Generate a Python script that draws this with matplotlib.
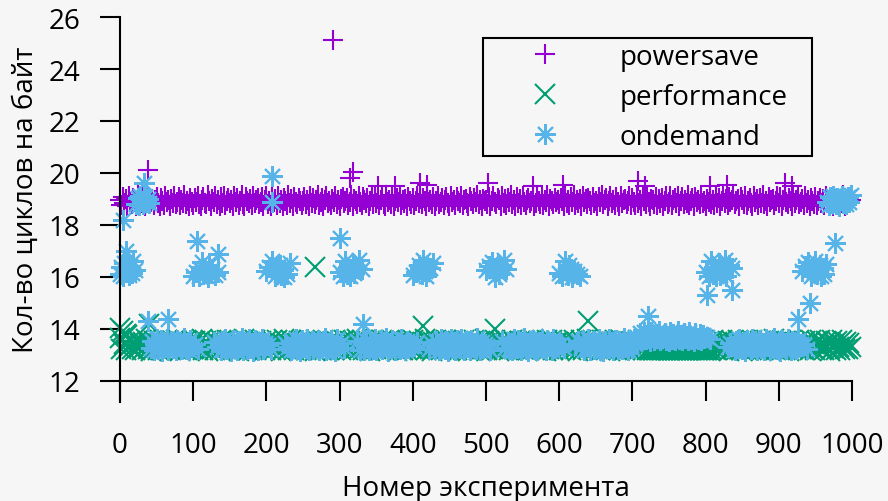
import numpy as np
import matplotlib
matplotlib.use('Agg')
import matplotlib.pyplot as plt

plt.rcParams['font.family'] = ['Open Sans', 'DejaVu Sans']

run = np.arange(0, 1000, 2)

powersave = [
    18.95, 18.76, 19.08, 18.84, 18.99, 18.73, 19.12, 18.88, 18.79, 19.03, 18.91, 18.75, 19.14, 18.82, 18.97, 18.86, 19.06, 18.74, 18.93, 19.10, 18.80, 18.89, 19.01, 18.77, 18.96,
    19.09, 18.83, 18.74, 19.04, 18.92, 18.78, 19.13, 18.87, 18.95, 18.73, 19.00, 18.85, 19.11, 18.79, 18.90, 19.07, 18.76, 18.98, 18.84, 19.15, 18.81, 18.94, 18.75, 19.02, 18.88,
    18.77, 19.05, 18.90, 19.12, 18.82, 18.74, 18.97, 19.09, 18.86, 18.79, 19.14, 18.93, 18.75, 19.01, 18.89, 19.10, 18.80, 18.96, 18.73, 19.06, 18.85, 19.13, 18.78, 18.92, 19.03,
    18.84, 18.97, 18.75, 19.11, 18.88, 19.02, 18.78, 18.94, 19.14, 18.81, 18.73, 19.07, 18.91, 18.86, 19.00, 18.76, 19.12, 18.83, 18.95, 19.05, 18.79, 18.90, 19.09, 18.74, 18.98,
    19.13, 18.80, 18.93, 18.74, 19.06, 18.87, 19.00, 18.77, 19.10, 18.85, 18.96, 18.73, 19.04, 18.92, 18.78, 19.15, 18.83, 18.99, 18.75, 19.08, 18.89, 18.81, 19.02, 18.94, 18.76,
    18.91, 19.07, 18.79, 18.98, 18.74, 19.12, 18.86, 19.03, 18.82, 18.95, 19.14, 18.77, 18.90, 19.05, 18.73, 18.97, 19.10, 18.84, 18.93, 18.76, 19.01, 18.88, 19.13, 18.80, 18.96,
    18.75, 18.99, 19.09, 18.83, 18.92, 19.04, 18.78, 18.87, 19.15, 18.74, 19.00, 18.94, 18.81, 19.11, 18.89, 18.76, 19.06, 18.97, 18.85, 19.02, 18.73, 18.91, 19.08, 18.79, 19.12,
    18.86, 19.01, 18.77, 18.95, 19.13, 18.82, 18.74, 19.07, 18.90, 18.98, 18.80, 19.10, 18.75, 18.93, 19.04, 18.87, 19.14, 18.78, 18.96, 18.84, 19.00, 18.73, 19.09, 18.92, 18.81,
    19.05, 18.76, 18.94, 19.11, 18.85, 18.99, 18.79, 19.03, 18.91, 18.74, 19.14, 18.88, 18.97, 18.82, 19.07, 18.75, 18.93, 19.12, 18.80, 18.90, 19.02, 18.77, 18.96, 19.08, 18.84,
    18.73, 19.10, 18.89, 18.98, 18.78, 19.06, 18.92, 18.83, 19.13, 18.76, 18.95, 19.01, 18.86, 18.74, 19.09, 18.94, 18.81, 19.04, 18.88, 19.15, 18.79, 18.97, 18.75, 19.00, 18.91,
    18.98, 18.81, 19.07, 18.75, 18.93, 19.12, 18.87, 18.79, 19.02, 18.95, 18.73, 19.10, 18.84, 18.99, 18.77, 19.05, 18.90, 19.14, 18.82, 18.96, 18.74, 19.08, 18.86, 19.01, 18.78,
    19.11, 18.88, 18.76, 18.97, 19.04, 18.83, 18.92, 19.13, 18.74, 18.85, 19.06, 18.94, 18.80, 19.09, 18.77, 18.98, 18.89, 19.15, 18.75, 19.00, 18.91, 18.79, 19.03, 18.87, 18.96,
    18.82, 19.02, 18.93, 18.74, 19.10, 18.86, 18.97, 18.78, 19.07, 18.90, 19.14, 18.76, 18.95, 18.84, 19.01, 18.73, 19.12, 18.88, 18.99, 18.81, 19.05, 18.92, 18.77, 19.09, 18.85,
    18.94, 18.75, 19.08, 18.87, 19.15, 18.80, 18.96, 19.03, 18.74, 18.91, 19.11, 18.83, 18.98, 18.77, 19.06, 18.89, 18.73, 19.13, 18.85, 18.95, 19.00, 18.79, 18.92, 19.10, 18.76,
    19.04, 18.90, 18.78, 19.12, 18.84, 18.97, 18.74, 19.07, 18.93, 18.81, 19.14, 18.88, 18.75, 19.01, 18.96, 18.82, 19.09, 18.77, 18.99, 18.86, 19.05, 18.73, 18.94, 19.11, 18.80,
    18.87, 19.13, 18.76, 18.95, 19.02, 18.83, 19.10, 18.74, 18.91, 19.06, 18.79, 18.98, 18.85, 19.15, 18.78, 18.92, 19.03, 18.75, 19.08, 18.89, 18.97, 18.81, 19.12, 18.84, 18.93,
    18.74, 19.01, 18.90, 19.09, 18.80, 18.96, 18.77, 19.14, 18.86, 19.04, 18.73, 18.92, 19.11, 18.83, 18.99, 18.76, 19.06, 18.88, 18.95, 19.13, 18.79, 18.91, 19.00, 18.75, 19.07,
    18.97, 18.82, 19.12, 18.78, 18.93, 19.05, 18.86, 18.74, 19.10, 18.90, 18.99, 18.77, 19.03, 18.84, 19.15, 18.81, 18.94, 18.73, 19.08, 18.87, 18.98, 19.01, 18.76, 18.92, 19.13,
    18.85, 19.06, 18.75, 18.96, 19.11, 18.88, 18.79, 19.02, 18.93, 18.74, 19.14, 18.83, 18.97, 19.07, 18.80, 18.90, 19.00, 18.77, 19.12, 18.86, 18.95, 18.73, 19.04, 18.91, 18.82,
    19.09, 18.78, 18.94, 19.03, 18.84, 18.99, 18.76, 19.13, 18.89, 18.81, 19.05, 18.92, 18.74, 19.10, 18.87, 18.96, 18.79, 19.01, 18.85, 19.15, 18.75, 18.93, 19.07, 18.83, 18.98,
]

performance = [
    13.64, 13.25, 13.92, 13.41, 13.20, 13.78, 13.33, 13.55, 13.22, 13.47, 13.18, 13.38, 13.58, 13.27, 13.44, 13.19, 13.51, 13.30, 13.60, 13.23, 13.42, 13.17, 13.36, 13.54, 13.26,
    13.48, 13.21, 13.57, 13.34, 13.18, 13.45, 13.29, 13.59, 13.24, 13.40, 13.19, 13.52, 13.31, 13.56, 13.22, 13.43, 13.17, 13.50, 13.35, 13.26, 13.58, 13.20, 13.39, 13.28, 13.53,
    13.23, 13.55, 13.37, 13.19, 13.49, 13.30, 13.60, 13.21, 13.42, 13.54, 13.17, 13.33, 13.57, 13.25, 13.46, 13.20, 13.51, 13.38, 13.18, 13.59, 13.28, 13.44, 13.22, 13.56, 13.35,
    13.19, 13.47, 13.31, 13.58, 13.24, 13.41, 13.17, 13.53, 13.36, 13.27, 13.60, 13.21, 13.45, 13.18, 13.50, 13.39, 13.25, 13.57, 13.20, 13.43, 13.32, 13.55, 13.23, 13.40, 13.18,
    13.52, 13.28, 13.44, 13.20, 13.59, 13.35, 13.22, 13.56, 13.30, 13.48, 13.17, 13.41, 13.60, 13.26, 13.50, 13.19, 13.38, 13.57, 13.29, 13.18, 13.46, 13.33, 13.55, 13.21, 13.43,
    13.27, 13.54, 13.19, 13.40, 13.58, 13.23, 13.47, 13.34, 13.17, 13.56, 13.29, 13.51, 13.20, 13.42, 13.59, 13.24, 13.37, 13.18, 13.53, 13.31, 13.48, 13.21, 13.57, 13.28, 13.44,
    13.49, 13.18, 13.36, 13.57, 13.25, 13.45, 13.21, 13.55, 13.32, 13.19, 13.52, 13.28, 13.60, 13.22, 13.41, 13.56, 13.20, 13.35, 13.53, 13.26, 13.46, 13.17, 13.58, 13.30, 13.47,
    13.24, 13.51, 13.33, 13.18, 13.57, 13.28, 13.43, 13.20, 13.55, 13.37, 13.22, 13.59, 13.26, 13.48, 13.17, 13.40, 13.54, 13.29, 13.21, 13.50, 13.35, 13.19, 13.56, 13.31, 13.45,
    13.58, 13.22, 13.42, 13.27, 13.53, 13.18, 13.47, 13.34, 13.60, 13.20, 13.39, 13.55, 13.25, 13.17, 13.49, 13.30, 13.57, 13.23, 13.44, 13.19, 13.52, 13.36, 13.21, 13.58, 13.28,
    13.20, 13.46, 13.56, 13.24, 13.38, 13.18, 13.54, 13.31, 13.49, 13.22, 13.59, 13.27, 13.43, 13.17, 13.51, 13.35, 13.21, 13.57, 13.29, 13.45, 13.19, 13.53, 13.33, 13.25, 13.60,
    13.41, 13.19, 13.55, 13.30, 13.47, 13.22, 13.58, 13.26, 13.37, 13.17, 13.52, 13.44, 13.21, 13.56, 13.28, 13.48, 13.18, 13.39, 13.59, 13.23, 13.50, 13.32, 13.20, 13.54, 13.36,
    13.25, 13.57, 13.21, 13.43, 13.18, 13.53, 13.34, 13.60, 13.27, 13.46, 13.19, 13.55, 13.31, 13.22, 13.49, 13.38, 13.17, 13.58, 13.24, 13.42, 13.56, 13.20, 13.45, 13.29, 13.51,
    13.18, 13.48, 13.36, 13.59, 13.22, 13.44, 13.27, 13.54, 13.19, 13.40, 13.57, 13.25, 13.50, 13.17, 13.33, 13.56, 13.21, 13.46, 13.29, 13.60, 13.23, 13.39, 13.52, 13.20, 13.43,
    13.55, 13.26, 13.41, 13.19, 13.58, 13.32, 13.47, 13.21, 13.53, 13.28, 13.17, 13.50, 13.37, 13.59, 13.24, 13.45, 13.20, 13.56, 13.30, 13.42, 13.18, 13.54, 13.34, 13.22, 13.49,
    13.27, 13.52, 13.20, 13.44, 13.57, 13.23, 13.38, 13.18, 13.49, 13.31, 13.18, 13.18, 13.18, 13.18, 13.18, 13.18, 13.18, 13.18, 13.18, 13.18, 13.18, 13.18, 13.18, 13.18, 13.18,
    13.18, 13.18, 13.18, 13.18, 13.18, 13.18, 13.18, 13.18, 13.18, 13.18, 13.18, 13.18, 13.18, 13.18, 13.18, 13.18, 13.18, 13.18, 13.18, 13.18, 13.18, 13.18, 13.18, 13.18, 13.18,
    13.18, 13.18, 13.18, 13.46, 13.22, 13.57, 13.30, 13.19, 13.51, 13.36, 13.24, 13.59, 13.20, 13.43, 13.28, 13.55, 13.17, 13.40, 13.53, 13.25, 13.47, 13.21, 13.58, 13.33, 13.19,
    13.50, 13.26, 13.44, 13.18, 13.56, 13.31, 13.22, 13.59, 13.37, 13.20, 13.48, 13.27, 13.54, 13.17, 13.42, 13.57, 13.23, 13.35, 13.52, 13.19, 13.45, 13.29, 13.60, 13.21, 13.39,
    13.24, 13.55, 13.19, 13.41, 13.53, 13.28, 13.46, 13.17, 13.58, 13.33, 13.22, 13.50, 13.36, 13.20, 13.57, 13.25, 13.43, 13.18, 13.54, 13.30, 13.48, 13.21, 13.59, 13.27, 13.44,
    13.18, 13.52, 13.34, 13.57, 13.23, 13.40, 13.20, 13.55, 13.29, 13.47, 13.17, 13.58, 13.26, 13.43, 13.21, 13.53, 13.32, 13.19, 13.56, 13.38, 13.24, 13.50, 13.22, 13.45, 13.30,
]

ondemand = [
    16.12, 16.38, 16.03, 16.55, 16.21, 16.30, 16.07, 16.44, 16.16, 16.62, 16.26,  # 0-20
    18.82, 19.05, 18.76, 19.12, 18.94, 18.79, 19.08, 18.88, 19.00, 18.85,  # 22-40
    13.28, 13.52, 13.19, 13.44, 13.61, 13.23, 13.37, 13.56, 13.17, 13.48, 13.31, 13.63, 13.21, 13.40, 13.54,
    13.26, 13.45, 13.18, 13.59, 13.34, 13.50, 13.22, 13.42, 13.64, 13.25, 13.47, 13.20, 13.57, 13.35,  # 42-98
    16.05, 13.42, 16.18, 13.25, 16.02, 16.27, 16.58, 16.10, 16.36, 16.22, 16.01, 16.45, 16.14, 16.30, 13.51,
    16.08, 13.30, 16.19,  # 100-134
    13.41, 13.18, 13.55, 13.29, 13.62, 13.22, 13.47, 13.35, 13.17, 13.58, 13.26, 13.43, 13.20, 13.53, 13.32,
    13.64, 13.19, 13.49, 13.38, 13.24, 13.60, 13.28, 13.45, 13.17, 13.56, 13.33, 13.21, 13.51, 13.40, 13.63,
    13.25, 13.46,  # 136-198
    16.24, 13.38, 16.40, 13.22, 16.63, 16.31, 16.02, 16.37, 16.19, 16.48, 16.09, 16.28, 16.01, 13.47, 16.12,
    13.29, 16.55,  # 200-232
    13.20, 13.50, 13.34, 13.61, 13.23, 13.44, 13.17, 13.57, 13.30, 13.48, 13.26, 13.63, 13.19, 13.39, 13.54,
    13.22, 13.46, 13.36, 13.59, 13.18, 13.42, 13.27, 13.52, 13.64, 13.21, 13.45, 13.31, 13.56, 13.24, 13.40,
    13.17, 13.60, 13.33,  # 234-298
    16.20, 13.45, 16.04, 13.27, 16.60, 16.11, 16.38, 16.02, 16.25, 16.50, 16.14, 16.35, 13.54, 16.67, 13.21,
    16.29,  # 300-330
    13.47, 13.21, 13.58, 13.32, 13.18, 13.53, 13.40, 13.25, 13.62, 13.19, 13.44, 13.29, 13.56, 13.22, 13.49,
    13.36, 13.64, 13.17, 13.42, 13.27, 13.59, 13.34, 13.20, 13.51, 13.45, 13.23, 13.61, 13.30, 13.38, 13.18,
    13.55, 13.26, 13.48, 13.35,  # 332-398
    16.08, 13.33, 16.21, 13.49, 16.47, 16.30, 16.13, 16.64, 16.25, 16.04, 16.40, 13.24, 16.33, 13.41, 16.52,  # 400-428
    13.24, 13.55, 13.37, 13.19, 13.60, 13.31, 13.46, 13.22, 13.52, 13.17, 13.43, 13.63, 13.28, 13.49, 13.20,
    13.57, 13.35, 13.26, 13.62, 13.41, 13.18, 13.54, 13.30, 13.45, 13.21, 13.59, 13.33, 13.48, 13.23, 13.64,
    13.38, 13.19, 13.51, 13.27, 13.44,  # 430-498
    16.27, 13.36, 16.42, 13.20, 16.58, 16.33, 16.01, 16.24, 16.46, 16.10, 16.37, 13.52, 16.65, 13.28, 16.30,  # 500-528
    13.51, 13.22, 13.43, 13.18, 13.61, 13.34, 13.27, 13.56, 13.40, 13.20, 13.48, 13.64, 13.25, 13.37, 13.17,
    13.53, 13.30, 13.59, 13.23, 13.45, 13.19, 13.50, 13.36, 13.62, 13.28, 13.42, 13.21, 13.57, 13.33, 13.47,
    13.18, 13.60, 13.26, 13.44, 13.39,  # 530-598
    16.14, 13.44, 16.02, 13.26, 16.61, 16.20, 16.07, 16.45, 16.32, 16.01, 16.23, 13.39, 16.11, 13.55, 16.05,  # 600-628
    13.29, 13.57, 13.20, 13.46, 13.35, 13.63, 13.18, 13.41, 13.53, 13.24, 13.48, 13.31, 13.60, 13.21, 13.44,
    13.17, 13.55, 13.38, 13.27, 13.62, 13.33, 13.49, 13.19, 13.58, 13.42, 13.25, 13.52, 13.36, 13.22, 13.64,
    13.30, 13.45, 13.18, 13.56, 13.39, 13.26, 13.61, 13.43, 13.50,  # 630-706
    13.62, 13.84, 13.57, 13.73, 13.90, 13.60, 13.78, 13.66, 13.55, 13.87, 13.70, 13.58, 13.81, 13.64, 13.92,
    13.56, 13.75, 13.68, 13.85, 13.59, 13.72, 13.55, 13.88, 13.63, 13.79, 13.57, 13.69, 13.91, 13.61, 13.76,
    13.56, 13.83, 13.65, 13.74, 13.58, 13.89, 13.62, 13.71, 13.55, 13.86, 13.67, 13.60, 13.80, 13.57, 13.77,
    13.64,  # 708-798
    16.18, 13.68, 16.05, 13.60, 16.60, 16.12, 16.38, 16.02, 16.26, 16.52, 16.09, 16.35, 16.21, 16.66, 16.04,
    13.31, 16.47, 13.48, 16.33,  # 800-836
    13.36, 13.19, 13.54, 13.27, 13.61, 13.42, 13.22, 13.49, 13.17, 13.58, 13.33, 13.45, 13.24, 13.63, 13.30,
    13.52, 13.20, 13.40, 13.56, 13.26, 13.47, 13.18, 13.60, 13.35, 13.43, 13.21, 13.55, 13.29, 13.64, 13.38,
    13.23, 13.50, 13.17, 13.57, 13.32, 13.46, 13.25, 13.62, 13.41, 13.19, 13.53, 13.28, 13.48, 13.22, 13.59,
    13.37, 13.44,  # 838-930
    16.22, 13.40, 16.41, 13.23, 16.57, 16.30, 16.02, 16.36, 16.19, 16.63, 16.10, 16.27, 16.45, 16.04, 16.33,
    16.13, 16.50,  # 932-964
    18.90, 18.77, 19.08, 18.84, 19.13, 18.95, 18.80, 19.02, 18.75, 18.98, 19.11, 18.86, 18.93, 18.79, 19.06,
    18.88, 19.15,  # 966-998
]

# single outlying runs
ps_out_x = [38, 291, 314, 318, 352, 376, 410, 420, 503, 564, 605, 708, 717, 806, 829, 908, 918]
ps_out_y = [20.1, 25.1, 19.8, 20.05, 19.5, 19.5, 19.6, 19.55, 19.6, 19.5, 19.55, 19.7, 19.5, 19.5, 19.55, 19.6, 19.5]
pf_out_x = [0, 8, 40, 266, 414, 512, 639]
pf_out_y = [14.05, 13.8, 14.2, 16.4, 14.1, 14.0, 14.3]
od_out_x = [4, 8, 33, 38, 66, 105, 134, 207, 207, 300, 332, 721, 802, 836, 926, 943, 977]
od_out_y = [18.2, 17.0, 19.6, 14.3, 14.4, 17.4, 16.9, 19.9, 18.9, 17.5, 14.2, 14.5, 15.3, 15.5, 14.4, 15.0, 17.3]

assert len(powersave) == len(run) and len(performance) == len(run) and len(ondemand) == len(run)

series = [
    ('powersave', powersave, ps_out_x, ps_out_y, '+', '#9400d3'),
    ('performance', performance, pf_out_x, pf_out_y, 'x', '#009e73'),
    ('ondemand', ondemand, od_out_x, od_out_y, (8, 2, 0), '#56b4e9'),
]

bg = '#f6f6f6'
fig = plt.figure(figsize=(8.88, 5.02), dpi=100, facecolor=bg)
ax = fig.add_axes([120 / 888, 99 / 502, 732 / 888, 385 / 502])
ax.set_facecolor(bg)

for name, ys, ox, oy, mk, col in series:
    ax.plot(np.concatenate([run, ox]), list(ys) + list(oy), ls='none', marker=mk,
            ms=15, mew=1.5, color=col, label=name, clip_on=False)

ax.set_xlim(0, 1000)
ax.set_ylim(26 - 385 / 26, 26)
ax.set_xticks(range(0, 1001, 100))
ax.set_yticks(range(12, 27, 2))

for s in ['top', 'right']:
    ax.spines[s].set_visible(False)
ax.spines['bottom'].set_position(('data', 12))
for s in ['left', 'bottom']:
    ax.spines[s].set_linewidth(1.5)

ax.tick_params(direction='out', length=14.5, width=1.5, labelsize=20)
ax.tick_params(axis='x', pad=21.5)
ax.tick_params(axis='y', pad=14)

ax.set_xlabel('Номер эксперимента', fontsize=20)
ax.xaxis.set_label_coords(0.5, -0.187)
ax.set_ylabel('Кол-во циклов на байт', fontsize=20)
ax.yaxis.set_label_coords(-0.109, 0.527)

top = (403 - 39) / 385
leg = ax.legend(loc='upper left', bbox_to_anchor=((483 - 120) / 732, top - 0.3, 329 / 732, 0.3),
                mode='expand', fancybox=False, edgecolor='black', facecolor=bg, framealpha=1,
                fontsize=20, borderpad=0.18, handlelength=4.1, handletextpad=0.65,
                labelspacing=0.43, borderaxespad=0, numpoints=1)
leg.get_frame().set_linewidth(1.5)

fig.savefig('out.png', dpi=100, facecolor=bg)
